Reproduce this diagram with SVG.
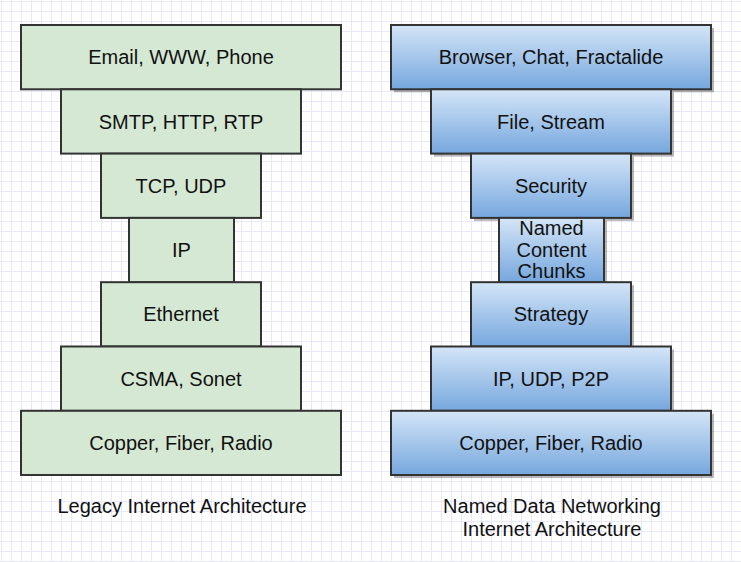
<svg xmlns="http://www.w3.org/2000/svg" width="741" height="562" viewBox="0 0 741 562">
<style>
.box{stroke:#333333;stroke-width:2}
.g{fill:#d5e8d4}
.b{fill:url(#blueGrad)}
.sh{fill:#000;opacity:0.28}
text{font-family:"Liberation Sans",Arial,sans-serif;font-size:20px;fill:#111;text-anchor:middle}
</style>
<defs>
<linearGradient id="blueGrad" x1="0" y1="0" x2="0" y2="1">
<stop offset="0" stop-color="#d4e5f7"/>
<stop offset="1" stop-color="#76a7de"/>
</linearGradient>
<pattern id="grid" x="0" y="0" width="10" height="10" patternUnits="userSpaceOnUse">
<rect x="1" y="0" width="1" height="10" fill="#e8e8f9"/>
<rect x="0" y="1" width="10" height="1" fill="#e8e8f9"/>
</pattern>
</defs>
<rect width="741" height="562" fill="#ffffff"/>
<rect width="741" height="562" fill="url(#grid)"/>

<g id="legacy">
<g id="l-app"><rect class="box g" x="21" y="25" width="320" height="64.3"/><text x="181" y="64">Email, WWW, Phone</text></g>
<g id="l-session"><rect class="box g" x="61" y="89.3" width="240" height="64.3"/><text x="181" y="128.5">SMTP, HTTP, RTP</text></g>
<g id="l-transport"><rect class="box g" x="101" y="153.6" width="160" height="64.3"/><text x="181" y="192.8">TCP, UDP</text></g>
<g id="l-ip"><rect class="box g" x="129" y="217.9" width="105" height="64.3"/><text x="181.5" y="257">IP</text></g>
<g id="l-ethernet"><rect class="box g" x="101" y="282.2" width="160" height="64.3"/><text x="181" y="321.4">Ethernet</text></g>
<g id="l-csma"><rect class="box g" x="61" y="346.5" width="240" height="64.3"/><text x="181" y="385.7">CSMA, Sonet</text></g>
<g id="l-phys"><rect class="box g" x="21" y="410.8" width="320" height="64.2"/><text x="181" y="450">Copper, Fiber, Radio</text></g>
<text id="l-caption" x="182" y="513">Legacy Internet Architecture</text>
</g>

<g id="ndn">
<g id="n-app"><rect class="sh" x="394" y="28" width="320" height="64.3"/><rect class="box b" x="391" y="25" width="320" height="64.3"/><text x="551" y="64">Browser, Chat, Fractalide</text></g>
<g id="n-file"><rect class="sh" x="434" y="92.3" width="240" height="64.3"/><rect class="box b" x="431" y="89.3" width="240" height="64.3"/><text x="551" y="128.5">File, Stream</text></g>
<g id="n-sec"><rect class="sh" x="474" y="156.6" width="160" height="64.3"/><rect class="box b" x="471" y="153.6" width="160" height="64.3"/><text x="551" y="192.8">Security</text></g>
<g id="n-ncc"><rect class="sh" x="502" y="220.9" width="105" height="64.3"/><rect class="box b" x="499" y="217.9" width="105" height="64.3"/><text x="551.5" y="235">Named</text><text x="551.5" y="256.7">Content</text><text x="551.5" y="278.3">Chunks</text></g>
<g id="n-strat"><rect class="sh" x="474" y="285.2" width="160" height="64.3"/><rect class="box b" x="471" y="282.2" width="160" height="64.3"/><text x="551" y="321.4">Strategy</text></g>
<g id="n-ip"><rect class="sh" x="434" y="349.5" width="240" height="64.3"/><rect class="box b" x="431" y="346.5" width="240" height="64.3"/><text x="551" y="385.7">IP, UDP, P2P</text></g>
<g id="n-phys"><rect class="sh" x="394" y="413.8" width="320" height="64.2"/><rect class="box b" x="391" y="410.8" width="320" height="64.2"/><text x="551" y="450">Copper, Fiber, Radio</text></g>
<text id="n-caption1" x="552" y="513.3">Named Data Networking</text>
<text id="n-caption2" x="552" y="535.7">Internet Architecture</text>
</g>

<g id="connectors"/>
</svg>
